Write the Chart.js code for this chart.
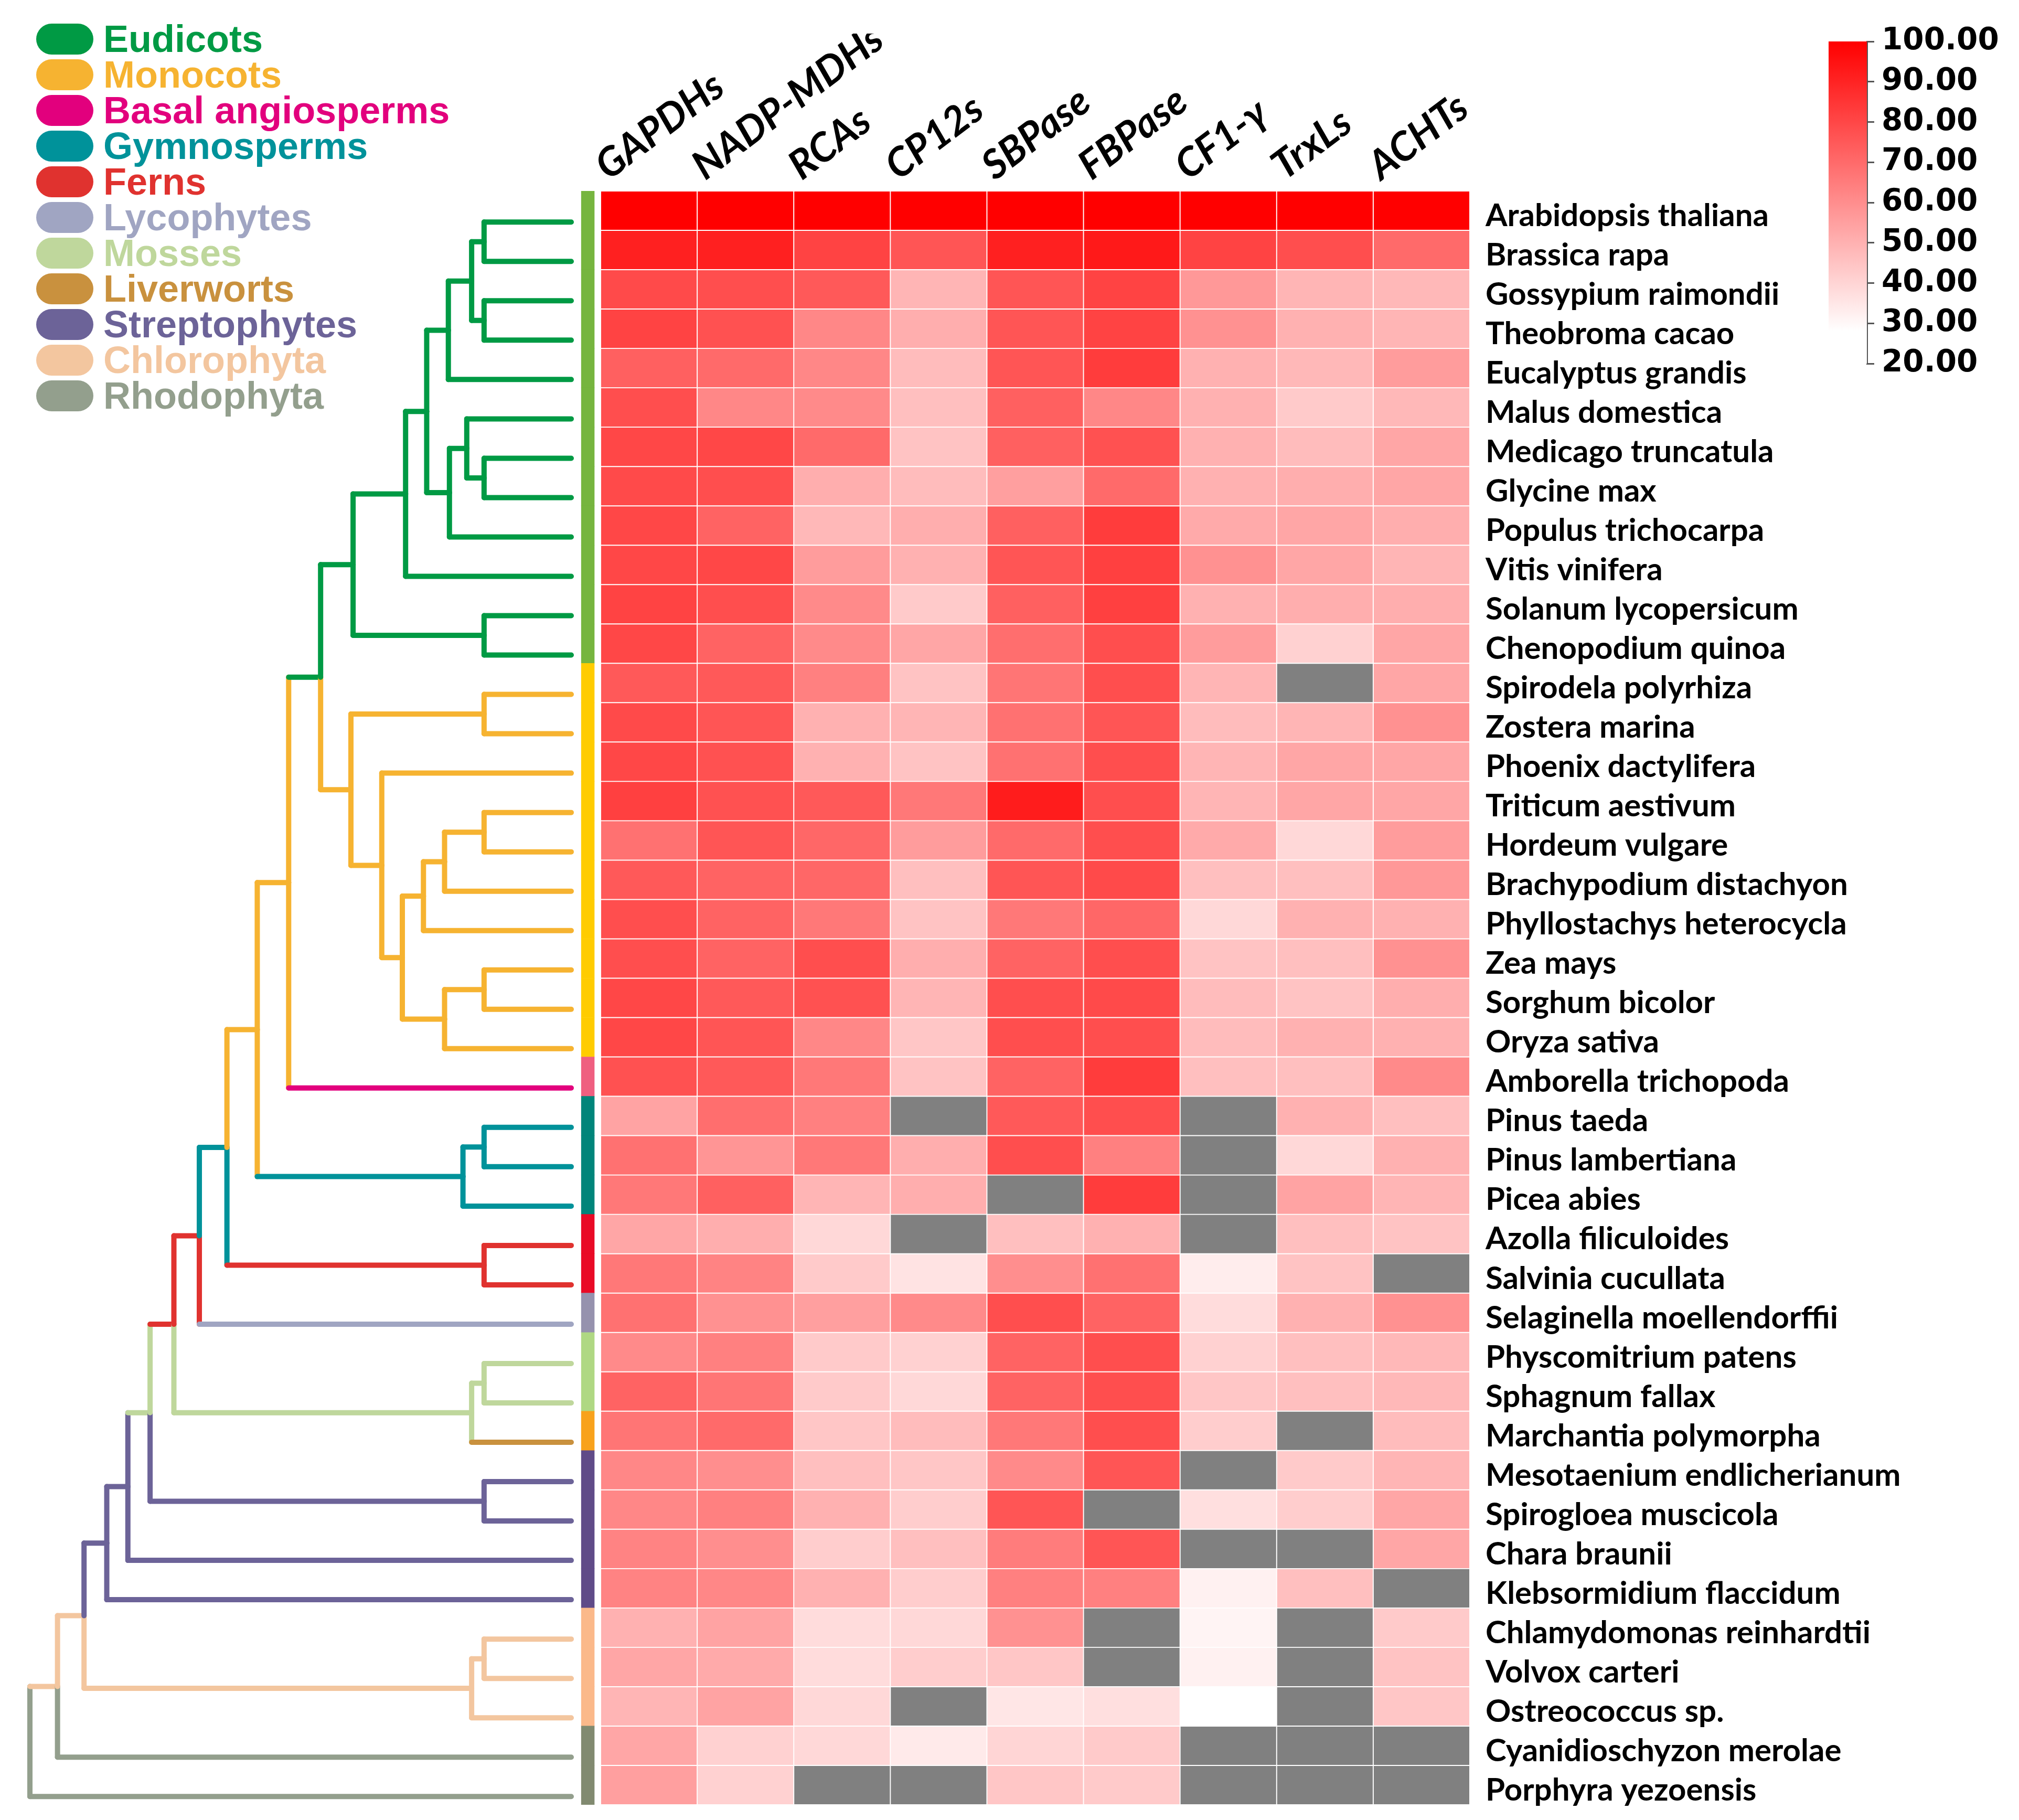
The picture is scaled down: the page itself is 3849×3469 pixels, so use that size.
<!DOCTYPE html>
<html>
<head>
<meta charset="utf-8">
<script src="https://cdn.jsdelivr.net/npm/chart.js@4.4.1/dist/chart.umd.min.js"></script>
<style>
  html, body { margin: 0; padding: 0; background: #fff; }
  #wrap { position: relative; width: 3849px; height: 3469px; overflow: hidden; }
  #main { position: absolute; left: 0; top: 0; }
  #scale { position: absolute; left: 3458px; top: 0; }
  #legend { position: absolute; left: 69px; top: 40px; font-family: 'Liberation Sans', Arial, sans-serif; font-weight: bold; }
  .item { display: flex; align-items: center; height: 68px; }
  .pill { width: 109px; height: 59px; border-radius: 30px; flex: none; }
  .txt { margin-left: 19px; font-size: 72px; line-height: 68px; white-space: nowrap; }
</style>
</head>
<body>
<div id="wrap">
  <canvas id="main" width="3849" height="3469"></canvas>
  <canvas id="scale" width="391" height="760"></canvas>
  <div id="legend"></div>
</div>
<script>
// ---- data ----
const genes = ['GAPDHs', 'NADP-MDHs', 'RCAs', 'CP12s', 'SBPase', 'FBPase', 'CF1-\u03B3', 'TrxLs', 'ACHTs'];

const species = [
  'Arabidopsis thaliana', 'Brassica rapa', 'Gossypium raimondii', 'Theobroma cacao', 'Eucalyptus grandis',
  'Malus domestica', 'Medicago truncatula', 'Glycine max', 'Populus trichocarpa', 'Vitis vinifera',
  'Solanum lycopersicum', 'Chenopodium quinoa', 'Spirodela polyrhiza', 'Zostera marina', 'Phoenix dactylifera',
  'Triticum aestivum', 'Hordeum vulgare', 'Brachypodium distachyon', 'Phyllostachys heterocycla', 'Zea mays',
  'Sorghum bicolor', 'Oryza sativa', 'Amborella trichopoda', 'Pinus taeda', 'Pinus lambertiana',
  'Picea abies', 'Azolla filiculoides', 'Salvinia cucullata', 'Selaginella moellendorffii', 'Physcomitrium patens',
  'Sphagnum fallax', 'Marchantia polymorpha', 'Mesotaenium endlicherianum', 'Spirogloea muscicola', 'Chara braunii',
  'Klebsormidium flaccidum', 'Chlamydomonas reinhardtii', 'Volvox carteri', 'Ostreococcus sp.', 'Cyanidioschyzon merolae',
  'Porphyra yezoensis'
];

// identity (%) per gene family, one value per species, null = absent
const gapdh = [100, 91, 79, 81, 73, 78, 80, 79, 80, 80, 81, 80, 75, 79, 80, 82, 68, 75, 78, 78, 80, 80, 77, 54, 68, 66, 53, 66, 68, 61, 72, 67, 62, 62, 63, 63, 50, 53, 49, 53, 55];
const nadpMdh = [100, 91, 78, 77, 70, 62, 80, 78, 72, 80, 78, 72, 75, 76, 77, 77, 76, 72, 72, 72, 75, 76, 75, 69, 58, 73, 51, 63, 59, 64, 67, 70, 60, 64, 60, 62, 54, 52, 54, 41, 41];
const rca = [100, 81, 75, 62, 62, 61, 70, 51, 48, 56, 61, 61, 64, 50, 50, 75, 71, 71, 66, 78, 77, 62, 66, 64, 66, 49, 39, 43, 55, 43, 43, 44, 46, 50, 42, 50, 38, 38, 39, 39, null];
const cp12 = [100, 76, 49, 51, 47, 46, 45, 47, 51, 50, 43, 53, 45, 49, 45, 66, 56, 46, 45, 51, 49, 44, 45, null, 51, 51, null, 36, 61, 41, 39, 47, 44, 42, 46, 42, 39, 42, null, 34, null];
const sbpase = [100, 91, 76, 76, 76, 73, 73, 55, 73, 76, 73, 69, 67, 68, 68, 92, 70, 76, 66, 72, 78, 78, 72, 75, 78, null, 46, 60, 78, 72, 72, 66, 61, 76, 65, 64, 59, 44, 35, 40, 44];
const fbpase = [100, 93, 81, 81, 83, 62, 77, 70, 83, 82, 82, 78, 78, 76, 78, 78, 78, 79, 71, 78, 79, 78, 83, 78, 64, 83, 50, 68, 72, 78, 78, 78, 76, null, 76, 64, null, null, 37, 43, 43];
const cf1g = [100, 81, 57, 59, 50, 50, 50, 50, 52, 59, 50, 56, 49, 47, 49, 49, 52, 46, 39, 45, 47, 47, 46, null, null, null, null, 33, 38, 41, 44, 42, null, 37, null, 32, 31, 32, 27, null, null];
const trxl = [100, 78, 49, 50, 48, 43, 47, 51, 53, 53, 51, 41, null, 49, 53, 53, 39, 46, 50, 46, 45, 50, 46, 50, 39, 54, 46, 45, 50, 46, 46, null, 43, 42, null, 46, null, null, null, null, null];
const acht = [100, 70, 48, 49, 56, 48, 53, 53, 51, 49, 51, 53, 53, 59, 53, 53, 56, 57, 50, 59, 51, 50, 61, 46, 50, 49, 45, null, 59, 48, 48, 47, 49, 53, 53, null, 43, 45, 44, null, null];
const geneValues = [gapdh, nadpMdh, rca, cp12, sbpase, fbpase, cf1g, trxl, acht];

const groupNames = ['Eudicots', 'Monocots', 'Basal angiosperms', 'Gymnosperms', 'Ferns', 'Lycophytes', 'Mosses', 'Liverworts', 'Streptophytes', 'Chlorophyta', 'Rhodophyta'];
const groupColors = ['#009a44', '#f6b331', '#e2007d', '#00929a', '#e0322f', '#a0a5c2', '#bfd79c', '#c9913e', '#6c6398', '#f3c69f', '#939f8d'];
const stripColors = ['#76b53f', '#ffcc00', '#ef5f80', '#00857a', '#e90a26', '#9692ae', '#afd883', '#f8a21c', '#604b88', '#fbb98a', '#818a70'];
// clade of each species (index into groupNames)
const rowGroup = [0,0,0,0,0,0,0,0,0,0,0,0, 1,1,1,1,1,1,1,1,1,1, 2, 3,3,3, 4,4, 5, 6,6, 7, 8,8,8,8, 9,9,9, 10,10];

// dendrogram: [upper child, lower child, height (root = 1), upper colour, lower colour, stem colour]
// numbers are species, 'nK' are earlier nodes
const tree = [
  [0, 1, 0.161, 0, 0, 0],          // n0
  [2, 3, 0.161, 0, 0, 0],          // n1
  ['n0', 'n1', 0.184, 0, 0, 0],    // n2
  ['n2', 4, 0.227, 0, 0, 0],       // n3
  [6, 7, 0.161, 0, 0, 0],          // n4
  [5, 'n4', 0.193, 0, 0, 0],       // n5
  ['n5', 8, 0.225, 0, 0, 0],       // n6
  ['n3', 'n6', 0.267, 0, 0, 0],    // n7
  ['n7', 9, 0.306, 0, 0, 0],       // n8
  [10, 11, 0.161, 0, 0, 0],        // n9
  ['n8', 'n9', 0.403, 0, 0, 0],    // n10
  [12, 13, 0.161, 1, 1, 1],        // n11
  [15, 16, 0.161, 1, 1, 1],        // n12
  ['n12', 17, 0.234, 1, 1, 1],     // n13
  ['n13', 18, 0.273, 1, 1, 1],     // n14
  [19, 20, 0.161, 1, 1, 1],        // n15
  ['n15', 21, 0.234, 1, 1, 1],     // n16
  ['n14', 'n16', 0.312, 1, 1, 1],  // n17
  [14, 'n17', 0.350, 1, 1, 1],     // n18
  ['n11', 'n18', 0.407, 1, 1, 1],  // n19
  ['n10', 'n19', 0.463, 0, 1, 0],  // n20
  ['n20', 22, 0.522, 1, 1, 1],     // n21
  [23, 24, 0.161, 3, 3, 3],        // n22
  ['n22', 25, 0.200, 3, 3, 3],     // n23
  ['n21', 'n23', 0.580, 1, 1, 1],  // n24
  [26, 27, 0.161, 4, 4, 4],        // n25
  ['n24', 'n25', 0.636, 1, 3, 3],  // n26
  ['n26', 28, 0.687, 3, 4, 4],     // n27
  [29, 30, 0.161, 6, 6, 6],        // n28
  ['n28', 31, 0.184, 6, 6, 6],     // n29
  ['n27', 'n29', 0.734, 4, 6, 4],  // n30
  [32, 33, 0.161, 8, 8, 8],        // n31
  ['n30', 'n31', 0.778, 6, 8, 6],  // n32
  ['n32', 34, 0.819, 8, 8, 8],     // n33
  ['n33', 35, 0.858, 8, 8, 8],     // n34
  [36, 37, 0.161, 9, 9, 9],        // n35
  ['n35', 38, 0.184, 9, 9, 9],     // n36
  ['n34', 'n36', 0.900, 8, 9, 9],  // n37
  ['n37', 39, 0.949, 9, 10, 9],    // n38
  ['n38', 40, 1.000, 10, 10, 10]   // n39
];

const scaleTicks = [20, 30, 40, 50, 60, 70, 80, 90, 100];

// ---- layout ----
const CW = 3849, CH = 3469;
const AREA = { left: 40, top: 364, right: 2802, bottom: 3440 };
const HEAT_LEFT = 1145;
const TIP_X = 1089, ROOT_X = 57;
const TOP_AXIS_H = 300, RIGHT_AXIS_W = 900;
const DENDRO_SHIFT = 0.29;
const STRIP = [-0.2, -0.065];
const LABEL_SHIFT = 0.3;
const WHITE_AT = 28;
const MISSING = '#808080';

const colW = (AREA.right - HEAT_LEFT) / genes.length;
const xMin = -(HEAT_LEFT - AREA.left) / colW;
const areaW = AREA.right - AREA.left;
const fTip = (AREA.right - TIP_X) / areaW, fRoot = (AREA.right - ROOT_X) / areaW;
const dSpan = 1 / (fRoot - fTip);
const dMin = -fTip * dSpan, dMax = dMin + dSpan;

function heatColor(v) {
  if (v === null || v === undefined) return MISSING;
  const t = Math.max(0, Math.min(1, (v - WHITE_AT) / (100 - WHITE_AT)));
  const g = Math.round(255 * (1 - t));
  return `rgb(255,${g},${g})`;
}

function noPad(s) {
  s.paddingLeft = 0; s.paddingRight = 0; s.paddingTop = 0; s.paddingBottom = 0;
}

// legend
const legendEl = document.getElementById('legend');
groupNames.forEach((name, i) => {
  const row = document.createElement('div');
  row.className = 'item';
  row.innerHTML = `<span class="pill" style="background:${groupColors[i]}"></span><span class="txt" style="color:${groupColors[i]}">${name}</span>`;
  legendEl.appendChild(row);
});

// heatmap cells
const datasets = [];
geneValues.forEach((vals, c) => {
  datasets.push({
    type: 'bar', indexAxis: 'y', xAxisID: 'x', yAxisID: 'y',
    data: species.map(() => [c, c + 1]),
    backgroundColor: vals.map(heatColor),
    borderColor: '#ffffff', borderWidth: 1.3, borderSkipped: false,
    barPercentage: 1, categoryPercentage: 1, grouped: false
  });
});
// clade strip
datasets.push({
  type: 'bar', indexAxis: 'y', xAxisID: 'x', yAxisID: 'y',
  data: species.map(() => STRIP.slice()),
  backgroundColor: rowGroup.map(g => stripColors[g]),
  borderWidth: 0, barPercentage: 1, categoryPercentage: 1, grouped: false
});

// dendrogram
const nodes = {};
function info(ref) {
  if (typeof ref === 'number') return { h: 0, y: ref, stem: groupColors[rowGroup[ref]] };
  return nodes[ref];
}
function seg(p, q, color) {
  datasets.push({
    type: 'line', xAxisID: 'xd', yAxisID: 'yd', data: [p, q],
    borderColor: color, borderWidth: 10, borderCapStyle: 'round', borderJoinStyle: 'round',
    pointRadius: 0, fill: false, tension: 0
  });
}
tree.forEach(([a, b, h, up, low, stem], k) => {
  const A = info(a), B = info(b);
  const y = (A.y + B.y) / 2;
  seg({ x: A.h, y: A.y }, { x: h, y: A.y }, A.stem);
  seg({ x: B.h, y: B.y }, { x: h, y: B.y }, B.stem);
  seg({ x: h, y: A.y }, { x: h, y: y }, groupColors[up]);
  seg({ x: h, y: B.y }, { x: h, y: y }, groupColors[low]);
  nodes['n' + k] = { h, y, stem: groupColors[stem] };
});

Chart.defaults.font.family = 'Lato';

new Chart(document.getElementById('main'), {
  type: 'bar',
  data: { labels: species, datasets },
  options: {
    responsive: false, animation: false, devicePixelRatio: 1,
    layout: { autoPadding: false, padding: { left: AREA.left, top: AREA.top - TOP_AXIS_H, right: CW - AREA.right - RIGHT_AXIS_W, bottom: CH - AREA.bottom } },
    plugins: { legend: { display: false }, tooltip: { enabled: false } },
    scales: {
      x: { type: 'linear', offset: false, min: xMin, max: genes.length, display: false },
      xt: {
        type: 'linear', position: 'top', offset: false, display: true, min: xMin, max: genes.length,
        grid: { display: false, drawTicks: false, offset: false }, border: { display: false },
        afterBuildTicks: s => { s.ticks = genes.map((g, i) => ({ value: i + LABEL_SHIFT })); },
        afterFit: s => { s.height = TOP_AXIS_H; noPad(s); },
        ticks: {
          autoSkip: false, minRotation: 37, maxRotation: 37, padding: 2, color: '#000',
          font: { family: 'Lato', weight: 'bold', style: 'italic', size: 76 },
          callback: (v, i) => genes[i]
        }
      },
      xd: { type: 'linear', offset: false, reverse: true, min: dMin, max: dMax, display: false },
      y: {
        type: 'category', position: 'right', offset: true,
        grid: { display: false, drawTicks: false }, border: { display: false },
        afterFit: s => { s.width = RIGHT_AXIS_W; noPad(s); },
        ticks: { autoSkip: false, padding: 30, labelOffset: 10, color: '#000', font: { family: 'Lato', weight: 'bold', size: 60 } }
      },
      yd: { type: 'linear', offset: false, reverse: true, min: -0.5 - DENDRO_SHIFT, max: species.length - 0.5 - DENDRO_SHIFT, display: false }
    }
  }
});

// colour scale
new Chart(document.getElementById('scale'), {
  type: 'bar',
  data: {
    labels: [''],
    datasets: [{
      data: [[scaleTicks[0], scaleTicks[scaleTicks.length - 1]]],
      backgroundColor: ctx => {
        const { chart } = ctx;
        if (!chart.chartArea) return null;
        const ys = chart.scales.y;
        const g = chart.ctx.createLinearGradient(0, ys.getPixelForValue(100), 0, ys.getPixelForValue(WHITE_AT));
        g.addColorStop(0, 'rgb(255,0,0)');
        g.addColorStop(1, 'rgb(255,255,255)');
        return g;
      },
      borderWidth: 0, barPercentage: 1, categoryPercentage: 1
    }]
  },
  options: {
    responsive: false, animation: false, devicePixelRatio: 1,
    layout: { autoPadding: false, padding: { left: 28, top: 79, right: 0, bottom: 67 } },
    plugins: { legend: { display: false }, tooltip: { enabled: false } },
    scales: {
      x: { display: false, afterFit: noPad },
      y: {
        position: 'right', min: scaleTicks[0], max: scaleTicks[scaleTicks.length - 1],
        grid: { display: true, drawOnChartArea: false, drawTicks: true, tickLength: 14, color: '#555', lineWidth: 3 },
        border: { display: true, color: '#555', width: 3 },
        afterFit: s => { s.width = 290; noPad(s); },
        afterBuildTicks: s => { s.ticks = scaleTicks.map(v => ({ value: v })); },
        ticks: { padding: 14, color: '#000', font: { family: 'DejaVu Sans', weight: 'bold', size: 58 }, callback: v => v.toFixed(2) }
      }
    }
  }
});
</script>
</body>
</html>
